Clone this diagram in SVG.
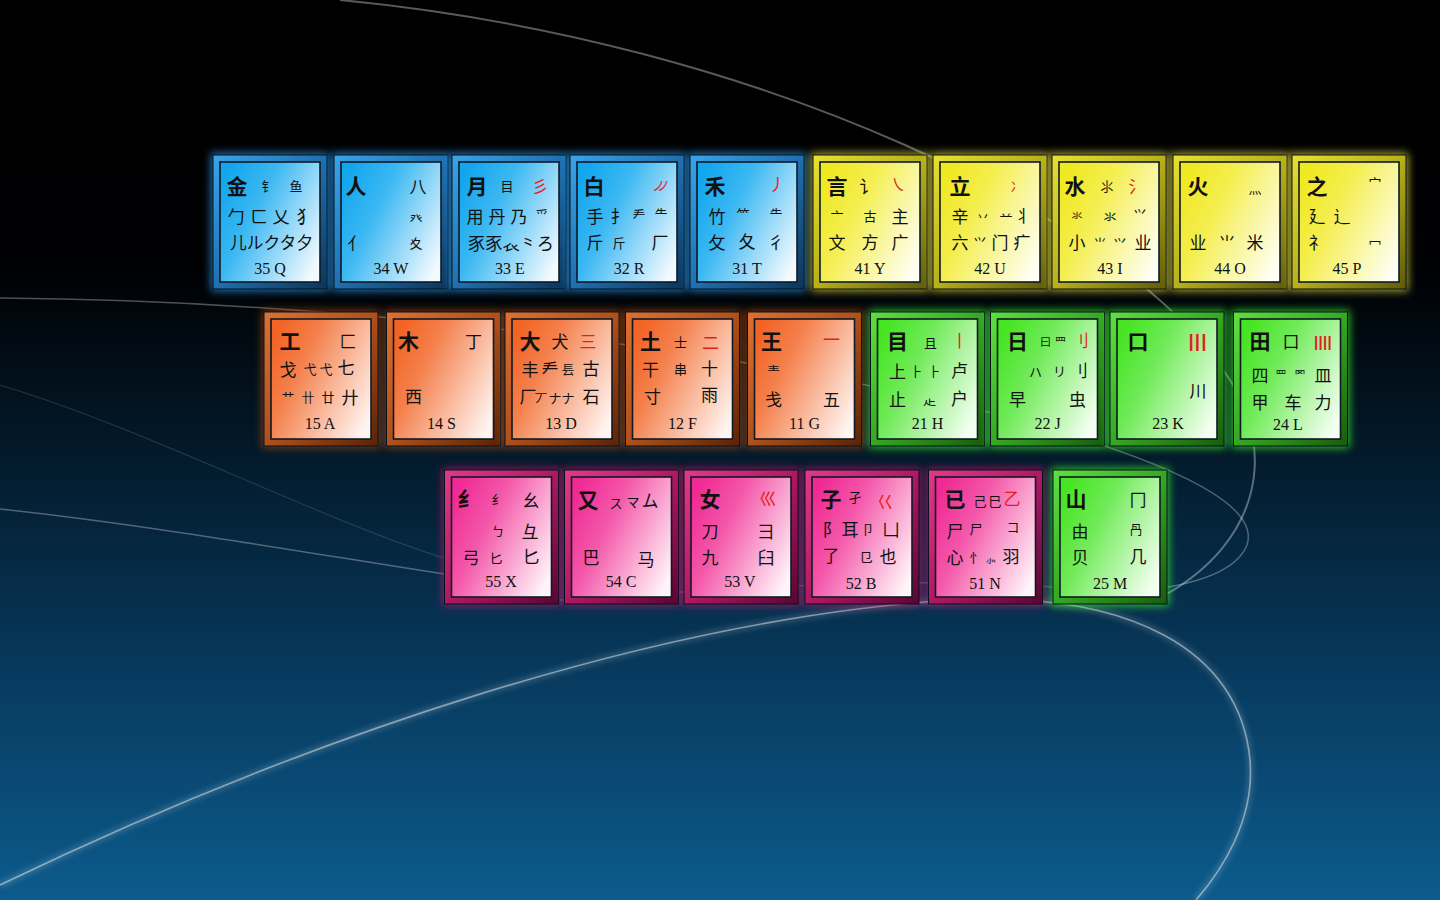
<svg xmlns="http://www.w3.org/2000/svg" xmlns:xlink="http://www.w3.org/1999/xlink" width="1440" height="900" viewBox="0 0 1440 900">
<defs>
<linearGradient id="bg" x1="0" y1="0" x2="0" y2="1">
<stop offset="0" stop-color="#000000"/>
<stop offset="0.3" stop-color="#000103"/>
<stop offset="0.5" stop-color="#03192a"/>
<stop offset="0.75" stop-color="#073a5e"/>
<stop offset="1" stop-color="#0c5b8c"/>
</linearGradient>
<filter id="blur" x="-30%" y="-30%" width="160%" height="160%"><feGaussianBlur stdDeviation="4"/></filter>
<filter id="sblur" x="-10%" y="-10%" width="120%" height="120%"><feGaussianBlur stdDeviation="2"/></filter>
<linearGradient id="faB" x1="0" y1="0.2" x2="1" y2="0.8"><stop offset="0" stop-color="#12a6ee"/><stop offset="0.35" stop-color="#3cb8f2"/><stop offset="1" stop-color="#f2faff"/></linearGradient>
<linearGradient id="faY" x1="0" y1="0.2" x2="1" y2="0.8"><stop offset="0" stop-color="#f0e820"/><stop offset="0.35" stop-color="#f4ee50"/><stop offset="1" stop-color="#fffff4"/></linearGradient>
<linearGradient id="faO" x1="0" y1="0.2" x2="1" y2="0.8"><stop offset="0" stop-color="#f26424"/><stop offset="0.3" stop-color="#f4804c"/><stop offset="1" stop-color="#fff4f0"/></linearGradient>
<linearGradient id="faG" x1="0" y1="0.2" x2="1" y2="0.8"><stop offset="0" stop-color="#46e422"/><stop offset="0.35" stop-color="#70ea58"/><stop offset="1" stop-color="#f4fff2"/></linearGradient>
<linearGradient id="faP" x1="0" y1="0.2" x2="1" y2="0.8"><stop offset="0" stop-color="#f02a94"/><stop offset="0.35" stop-color="#f458aa"/><stop offset="1" stop-color="#fff4f8"/></linearGradient>
<linearGradient id="frB" x1="0" y1="0" x2="1" y2="1"><stop offset="0" stop-color="#3aa4e8"/><stop offset="0.5" stop-color="#1f70b0"/><stop offset="1" stop-color="#0c3358"/></linearGradient>
<linearGradient id="frY" x1="0" y1="0" x2="1" y2="1"><stop offset="0" stop-color="#e8e030"/><stop offset="0.5" stop-color="#b8b018"/><stop offset="1" stop-color="#5e5a08"/></linearGradient>
<linearGradient id="frO" x1="0" y1="0" x2="1" y2="1"><stop offset="0" stop-color="#e07030"/><stop offset="0.5" stop-color="#b0501a"/><stop offset="1" stop-color="#5a2206"/></linearGradient>
<linearGradient id="frG" x1="0" y1="0" x2="1" y2="1"><stop offset="0" stop-color="#60e040"/><stop offset="0.5" stop-color="#36a822"/><stop offset="1" stop-color="#185c0c"/></linearGradient>
<linearGradient id="frP" x1="0" y1="0" x2="1" y2="1"><stop offset="0" stop-color="#e03a88"/><stop offset="0.5" stop-color="#b01864"/><stop offset="1" stop-color="#580630"/></linearGradient>
<g id="kB"><rect x="-9" y="-9" width="118" height="138" fill="#2a9cf0" opacity="0.75" filter="url(#blur)"/><rect class="fr" x="-7" y="-7" width="114" height="134" fill="url(#frB)"/><rect class="fa" width="100" height="120" fill="url(#faB)"/></g>
<g id="kY"><rect x="-9" y="-9" width="118" height="138" fill="#e8e040" opacity="0.75" filter="url(#blur)"/><rect class="fr" x="-7" y="-7" width="114" height="134" fill="url(#frY)"/><rect class="fa" width="100" height="120" fill="url(#faY)"/></g>
<g id="kO"><rect x="-9" y="-9" width="118" height="138" fill="#c85818" opacity="0.55" filter="url(#blur)"/><rect class="fr" x="-7" y="-7" width="114" height="134" fill="url(#frO)"/><rect class="fa" width="100" height="120" fill="url(#faO)"/></g>
<g id="kG"><rect x="-9" y="-9" width="118" height="138" fill="#3cf030" opacity="0.75" filter="url(#blur)"/><rect class="fr" x="-7" y="-7" width="114" height="134" fill="url(#frG)"/><rect class="fa" width="100" height="120" fill="url(#faG)"/></g>
<g id="kP"><rect x="-9" y="-9" width="118" height="138" fill="#d01870" opacity="0.6" filter="url(#blur)"/><rect class="fr" x="-7" y="-7" width="114" height="134" fill="url(#frP)"/><rect class="fa" width="100" height="120" fill="url(#faP)"/></g>
</defs>
<style>
.fr{stroke:#05121c;stroke-width:1}
.fa{stroke:#0d1a26;stroke-width:1.6}
text{font-family:"Noto Sans CJK SC","Noto Sans CJK JP",sans-serif;fill:#111;text-anchor:middle;dominant-baseline:central}
.m{font-size:21px;font-weight:700}
.c{font-size:17px}
.s{font-size:13px}
.xs{font-size:11px}
.r{fill:#e41e1e}
.lb{font-family:"Liberation Serif",serif;font-size:16px;fill:#111}
.bar{font-family:"Liberation Sans",sans-serif;font-weight:700;fill:#e41e1e}
.sw{fill:none;stroke:#ffffff}
</style>
<rect width="1440" height="900" fill="url(#bg)"/>
<g id="swooshes">
<path class="sw" d="M 340,0 C 760,40 1130,220 1230,380 C 1275,450 1262,540 1165,595" stroke-opacity="0.35" stroke-width="2"/>
<path class="sw" d="M 0,298 C 300,300 700,340 1000,415 C 1150,455 1262,500 1247,545 C 1237,570 1200,582 1162,588" stroke-opacity="0.3" stroke-width="1.5"/>
<path class="sw" d="M 0,509 C 150,525 320,555 450,575" stroke-opacity="0.3" stroke-width="1.5"/>
<path class="sw" d="M 0,385 C 150,430 320,520 450,560" stroke-opacity="0.12" stroke-width="1.2"/>
<path class="sw" d="M 0,885 C 300,740 650,620 950,600 C 1130,590 1240,650 1250,760 C 1255,820 1222,870 1196,900" stroke-opacity="0.12" stroke-width="8" filter="url(#sblur)"/>
<path class="sw" d="M 0,885 C 300,740 650,620 950,600 C 1130,590 1240,650 1250,760 C 1255,820 1222,870 1196,900" stroke-opacity="0.45" stroke-width="1.6"/>
<path class="sw" d="M 560,600 C 780,585 1000,570 1160,600" stroke-opacity="0.2" stroke-width="1.5"/>
</g>
<g id="keys">
<!-- Row 1 -->
<g id="key-Q" transform="translate(220,162)"><use href="#kB"/>
<text class="m" x="17" y="23">金</text><text class="s" x="48" y="23">钅</text><text class="s" x="76" y="23">鱼</text>
<text class="c" x="16" y="53">勹</text><text class="c" x="39" y="53">ㄈ</text><text class="c" x="61" y="53">乂</text><text class="c" x="85" y="53">犭</text>
<text class="c" x="10" y="79" style="text-anchor:start" textLength="83" lengthAdjust="spacingAndGlyphs">儿ルクタ夕</text>
<text class="lb" x="50" y="106">35 Q</text></g>
<g id="key-W" transform="translate(341,162)"><use href="#kB"/>
<text class="m" x="15" y="23">人</text><text class="c" x="77" y="23">八</text>
<text class="s" x="75" y="55">癶</text>
<text class="c" x="15" y="80">亻</text><text class="s" x="75" y="80">夊</text>
<text class="lb" x="50" y="106">34 W</text></g>
<g id="key-E" transform="translate(459,162)"><use href="#kB"/>
<text class="m" x="18" y="23">月</text><text class="s" x="48" y="23">目</text><text class="c r" x="81" y="23">彡</text>
<text class="c" x="16" y="53">用</text><text class="c" x="38" y="53">丹</text><text class="c" x="60" y="53">乃</text><text class="s" x="83" y="52">爫</text>
<text class="c" x="9" y="80" style="text-anchor:start" textLength="86" lengthAdjust="spacingAndGlyphs">豕豕𧘇⺀ろ</text>
<text class="lb" x="51" y="106">33 E</text></g>
<g id="key-R" transform="translate(577,162)"><use href="#kB"/>
<text class="m" x="17" y="23">白</text><text class="s r" x="80" y="22" style="letter-spacing:-8px">ノノ</text>
<text class="c" x="18" y="53">手</text><text class="c" x="42" y="53">扌</text><text class="s" x="62" y="52">龵</text><text class="s" x="84" y="51">⺧</text>
<text class="c" x="18" y="79">斤</text><text class="s" x="42" y="80">斤</text><text class="c" x="83" y="79">厂</text>
<text class="lb" x="52" y="106">32 R</text></g>
<g id="key-T" transform="translate(697,162)"><use href="#kB"/>
<text class="m" x="18" y="23">禾</text><text class="c r" x="80" y="21">丿</text>
<text class="c" x="20" y="53">竹</text><text class="s" x="46" y="51">⺮</text><text class="s" x="79" y="51">⺧</text>
<text class="c" x="20" y="79">攵</text><text class="c" x="50" y="78">夂</text><text class="c" x="79" y="79">彳</text>
<text class="lb" x="50" y="106">31 T</text></g>
<g id="key-Y" transform="translate(820,162)"><use href="#kY"/>
<text class="m" x="17" y="23">言</text><text class="c" x="48" y="23">讠</text><text class="c r" x="78" y="21">㇏</text>
<text class="s" x="17" y="53">亠</text><text class="s" x="50" y="53">古</text><text class="c" x="80" y="53">主</text>
<text class="c" x="17" y="79">文</text><text class="c" x="50" y="79">方</text><text class="c" x="80" y="79">广</text>
<text class="lb" x="50" y="106">41 Y</text></g>
<g id="key-U" transform="translate(940,162)"><use href="#kY"/>
<text class="m" x="20" y="23">立</text><text class="s r" x="77" y="23">冫</text>
<text class="c" x="20" y="53">辛</text><text class="s" x="43" y="53">丷</text><text class="s" x="66" y="53">䒑</text><text class="c" x="83" y="52">丬</text>
<text class="c" x="20" y="79">六</text><text class="s" x="40" y="79">⺍</text><text class="c" x="60" y="79">门</text><text class="c" x="82" y="79">疒</text>
<text class="lb" x="50" y="106">42 U</text></g>
<g id="key-I" transform="translate(1059,162)"><use href="#kY"/>
<text class="m" x="16" y="23">水</text><text class="s" x="48" y="23">⺢</text><text class="c r" x="78" y="23">氵</text>
<text class="xs" x="18" y="53">氺</text><text class="s" x="51" y="53">氺</text><text class="s" x="81" y="51">⺍</text>
<text class="c" x="18" y="79">小</text><text class="s" x="41" y="80">⺌</text><text class="s" x="61" y="80">⺍</text><text class="c" x="84" y="79">业</text>
<text class="lb" x="51" y="106">43 I</text></g>
<g id="key-O" transform="translate(1180,162)"><use href="#kY"/>
<text class="m" x="18" y="23">火</text><text class="s" x="75" y="25">灬</text>
<text class="c" x="18" y="79">业</text><text class="c" x="47" y="79">⺌</text><text class="c" x="75" y="79">米</text>
<text class="lb" x="50" y="106">44 O</text></g>
<g id="key-P" transform="translate(1299,162)"><use href="#kY"/>
<text class="m" x="18" y="23">之</text><text class="s" x="76" y="20">宀</text>
<text class="c" x="18" y="53">廴</text><text class="c" x="43" y="53">辶</text>
<text class="c" x="18" y="79">礻</text><text class="s" x="76" y="80">冖</text>
<text class="lb" x="48" y="106">45 P</text></g>
<!-- Row 2 -->
<g id="key-A" transform="translate(271,319)"><use href="#kO"/>
<text class="m" x="19" y="21">工</text><text class="c" x="77" y="21">匚</text>
<text class="c" x="17" y="49">戈</text><text class="s" x="39" y="49">弋</text><text class="s" x="55" y="49">弋</text><text class="c" x="75" y="47">七</text>
<text class="s" x="17" y="77">⺾</text><text class="s" x="37" y="77">卄</text><text class="s" x="57" y="77">廿</text><text class="c" x="79" y="77">廾</text>
<text class="lb" x="49" y="104">15 A</text></g>
<g id="key-S" transform="translate(393.5,319)"><use href="#kO"/>
<text class="m" x="15" y="21">木</text><text class="c" x="80" y="21">丁</text>
<text class="c" x="20" y="76">西</text>
<text class="lb" x="48" y="104">14 S</text></g>
<g id="key-D" transform="translate(512,319)"><use href="#kO"/>
<text class="m" x="18" y="21">大</text><text class="c" x="48" y="21">犬</text><text class="c r" x="76" y="21">三</text>
<text class="c" x="18" y="49">丰</text><text class="c" x="38" y="49">龵</text><text class="s" x="56" y="49">镸</text><text class="c" x="79" y="48">古</text>
<text class="c" x="16" y="76">厂</text><text class="s" x="29" y="78">丆</text><text class="s" x="43" y="78">ナ</text><text class="s" x="56" y="78">ナ</text><text class="c" x="79" y="76">石</text>
<text class="lb" x="49" y="104">13 D</text></g>
<g id="key-F" transform="translate(632.5,319)"><use href="#kO"/>
<text class="m" x="18" y="21">土</text><text class="s" x="48" y="22">士</text><text class="c r" x="78" y="22">二</text>
<text class="c" x="18" y="49">干</text><text class="s" x="48" y="49">串</text><text class="c" x="77" y="48">十</text>
<text class="c" x="20" y="76">寸</text><text class="c" x="77" y="74">雨</text>
<text class="lb" x="50" y="104">12 F</text></g>
<g id="key-G" transform="translate(754.5,319)"><use href="#kO"/>
<text class="m" x="17" y="21">王</text><text class="c r" x="77" y="19">一</text>
<text class="s" x="19" y="51">龶</text>
<text class="c" x="19" y="79">戋</text><text class="c" x="77" y="79">五</text>
<text class="lb" x="50" y="104">11 G</text></g>
<g id="key-H" transform="translate(877.5,319)"><use href="#kG"/>
<text class="m" x="20" y="21">目</text><text class="s" x="53" y="23">且</text><text class="c r" x="82" y="20">丨</text>
<text class="c" x="20" y="51">上</text><text class="s" x="39" y="51">⺊</text><text class="s" x="57" y="51">⺊</text><text class="c" x="82" y="50">卢</text>
<text class="c" x="20" y="79">止</text><text class="s" x="52" y="79">龰</text><text class="c" x="82" y="78">户</text>
<text class="lb" x="50" y="104">21 H</text></g>
<g id="key-J" transform="translate(997.5,319)"><use href="#kG"/>
<text class="m" x="20" y="21">日</text><text class="xs" x="48" y="22">曰</text><text class="xs" x="63" y="22">⺲</text><text class="c r" x="83" y="20">刂</text>
<text class="s" x="38" y="52">ハ</text><text class="s" x="62" y="51">リ</text><text class="c" x="82" y="50">刂</text>
<text class="c" x="20" y="79">早</text><text class="c" x="80" y="79">虫</text>
<text class="lb" x="50" y="104">22 J</text></g>
<g id="key-K" transform="translate(1117,319)"><use href="#kG"/>
<text class="m" x="21" y="21">口</text><text class="bar" x="81" y="21" style="font-size:19px;letter-spacing:1px">|||</text>
<text class="c" x="81" y="70">川</text>
<text class="lb" x="51" y="104">23 K</text></g>
<g id="key-L" transform="translate(1240.5,319)"><use href="#kG"/>
<text class="m" x="19.5" y="21">田</text><text class="c" x="50.5" y="21">口</text><text class="bar" x="82.5" y="22" style="font-size:15px;letter-spacing:0.3px">||||</text>
<text class="c" x="19.5" y="55">四</text><text class="xs" x="40.5" y="55">罒</text><text class="xs" x="59.5" y="55">罓</text><text class="c" x="82.5" y="55">皿</text>
<text class="c" x="19.5" y="82">甲</text><text class="c" x="52.5" y="82">车</text><text class="c" x="82.5" y="82">力</text>
<text class="lb" x="47.5" y="105">24 L</text></g>
<!-- Row 3 -->
<g id="key-X" transform="translate(451.5,477)"><use href="#kP"/>
<text class="m" x="16.5" y="21">纟</text><text class="s" x="46.5" y="21">纟</text><text class="c" x="79.5" y="22">幺</text>
<text class="s" x="46.5" y="53">ㄅ</text><text class="c" x="78.5" y="53">彑</text>
<text class="c" x="19.5" y="79">弓</text><text class="s" x="44.5" y="80">匕</text><text class="c" x="79.5" y="78">匕</text>
<text class="lb" x="49.5" y="104">55 X</text></g>
<g id="key-C" transform="translate(571.5,477)"><use href="#kP"/>
<text class="m" x="16.5" y="22">又</text><text class="s" x="44.5" y="25">ス</text><text class="s" x="61.5" y="24">マ</text><text class="c" x="78.5" y="22">ム</text>
<text class="c" x="19.5" y="79">巴</text><text class="c" x="74.5" y="81">马</text>
<text class="lb" x="49.5" y="104">54 C</text></g>
<g id="key-V" transform="translate(691,477)"><use href="#kP"/>
<text class="m" x="19" y="21">女</text><text class="c r" x="77" y="20">巛</text>
<text class="c" x="19" y="53">刀</text><text class="c" x="75" y="53">彐</text>
<text class="c" x="19" y="79">九</text><text class="c" x="75" y="79">臼</text>
<text class="lb" x="49" y="104">53 V</text></g>
<g id="key-B" transform="translate(812,477)"><use href="#kP"/>
<text class="m" x="19" y="21">子</text><text class="s" x="43" y="19">孑</text><text class="c r" x="73" y="23">巜</text>
<text class="c" x="19" y="51">阝</text><text class="c" x="38" y="51">耳</text><text class="s" x="56" y="51">卩</text><text class="c" x="79" y="51">凵</text>
<text class="c" x="19" y="77">了</text><text class="s" x="54" y="79">㔾</text><text class="c" x="76" y="78">也</text>
<text class="lb" x="49" y="106">52 B</text></g>
<g id="key-N" transform="translate(935.5,477)"><use href="#kP"/>
<text class="m" x="19.5" y="21">已</text><text class="s" x="44.5" y="23">己</text><text class="s" x="59.5" y="23">巳</text><text class="c r" x="76.5" y="20">乙</text>
<text class="c" x="19.5" y="53">尸</text><text class="s" x="40.5" y="51">尸</text><text class="s" x="77.5" y="49">コ</text>
<text class="c" x="19.5" y="79">心</text><text class="s" x="40.5" y="79">忄</text><text class="xs" x="55.5" y="81">⺗</text><text class="c" x="75.5" y="78">羽</text>
<text class="lb" x="49.5" y="106">51 N</text></g>
<g id="key-M" transform="translate(1060,477)"><use href="#kG"/>
<text class="m" x="16" y="21">山</text><text class="c" x="78" y="21">冂</text>
<text class="c" x="20" y="53">由</text><text class="s" x="76" y="51">冎</text>
<text class="c" x="20" y="79">贝</text><text class="c" x="78" y="78">几</text>
<text class="lb" x="50" y="106">25 M</text></g>
</g>
</svg>
